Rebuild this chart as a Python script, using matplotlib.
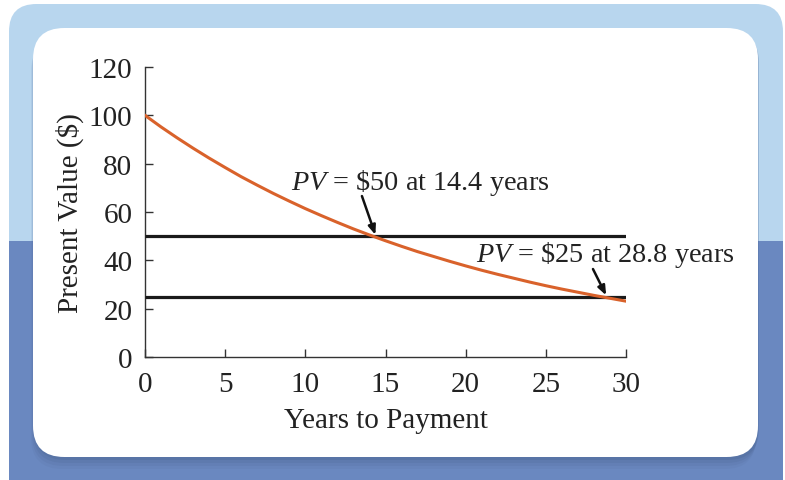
import matplotlib
matplotlib.use("Agg")
import matplotlib.pyplot as plt
from matplotlib.patches import FancyBboxPatch, Rectangle
import numpy as np

# ---- data ----
years = [0, 1, 2, 3, 4, 5, 6, 7, 8, 9, 10, 11, 12, 13, 14, 15, 16, 17, 18, 19, 20,
         21, 22, 23, 24, 25, 26, 27, 28, 29, 30]
present_value = [100.0, 95.2, 90.7, 86.4, 82.3, 78.4, 74.6, 71.1, 67.7, 64.5, 61.4,
                 58.5, 55.7, 53.0, 50.5, 48.1, 45.8, 43.6, 41.6, 39.6, 37.7,
                 35.9, 34.2, 32.6, 31.0, 29.5, 28.1, 26.8, 25.5, 24.3, 23.1]
ref_levels = [50, 25]
annot_texts = [r"$\it{PV}$ = \$50 at 14.4 years", r"$\it{PV}$ = \$25 at 28.8 years"]
annot_points = [(14.4, 50), (28.8, 25)]
x_ticks = [0, 5, 10, 15, 20, 25, 30]
y_ticks = [0, 20, 40, 60, 80, 100, 120]
x_label = "Years to Payment"
y_label = "Present Value ($)"

W, H = 785, 481
fig = plt.figure(figsize=(W / 100, H / 100), dpi=100)
plt.rcParams['font.family'] = ['Liberation Serif', 'DejaVu Serif']
plt.rcParams['mathtext.fontset'] = 'custom'
plt.rcParams['mathtext.it'] = 'Liberation Serif:italic'
plt.rcParams['mathtext.rm'] = 'Liberation Serif'

def fx(px):
    return px / W

def fy(py):
    return 1 - py / H

light_blue = "#b8d6ee"
dark_blue = "#6a88c0"
shadow = "#4d6896"

# outer frame
outer = FancyBboxPatch((fx(9), fy(500)), fx(783) - fx(9), fy(5) - fy(500),
                       boxstyle="round,pad=0,rounding_size=0.035",
                       transform=fig.transFigure, facecolor=light_blue,
                       edgecolor="none", zorder=0, mutation_aspect=W / H)
fig.patches.append(outer)
lower = Rectangle((fx(9), 0), fx(783) - fx(9), fy(242), transform=fig.transFigure,
                  facecolor=dark_blue, edgecolor="none", zorder=0.5)
fig.patches.append(lower)

# shadow
for i, a in enumerate([0.10, 0.15, 0.2, 0.3]):
    off = 12 - i * 3
    sh = FancyBboxPatch((fx(33 - 2 + i), fy(458 + off)), fx(758) - fx(33), fy(29) - fy(458),
                        boxstyle="round,pad=0,rounding_size=0.04",
                        transform=fig.transFigure, facecolor=shadow, alpha=a,
                        edgecolor="none", zorder=0.8, mutation_aspect=W / H)
    fig.patches.append(sh)

card = FancyBboxPatch((fx(33), fy(458)), fx(758) - fx(33), fy(29) - fy(458),
                      boxstyle="round,pad=0,rounding_size=0.04",
                      transform=fig.transFigure, facecolor="white",
                      edgecolor="none", zorder=1, mutation_aspect=W / H)
fig.patches.append(card)

# axes: x 0 at px 145, 30 at px 626 ; y 0 at 358, 120 at 68
ax = fig.add_axes([fx(145), fy(358), fx(626) - fx(145), fy(68) - fy(358)])
ax.set_zorder(2)
ax.patch.set_visible(False)
ax.set_xlim(0, 30)
ax.set_ylim(0, 120)

for lvl in ref_levels:
    ax.plot([years[0], years[-1]], [lvl, lvl], color="#1a1a1a", lw=2.3,
            solid_capstyle="butt", zorder=3)
ax.plot(years, present_value, color="#d9622b", lw=2.2, zorder=4)

ax.spines['top'].set_visible(False)
ax.spines['right'].set_visible(False)
for s in ['left', 'bottom']:
    ax.spines[s].set_color("#333333")
    ax.spines[s].set_linewidth(1.0)
ax.set_xticks(x_ticks)
ax.set_yticks(y_ticks)
ax.tick_params(direction='in', length=6, width=1.0, color="#333333",
               labelsize=21, labelcolor="#222222")
ax.tick_params(axis='x', pad=10)
ax.tick_params(axis='y', pad=9)
ax.set_xlabel(x_label, fontsize=21, color="#222222")
ax.set_ylabel(y_label, fontsize=21, color="#222222")
ax.xaxis.set_label_coords(0.5, -0.172)
ax.yaxis.set_label_coords(-0.127, 0.5)

# annotation texts
ax.text(17.15, 72.4, annot_texts[0], fontsize=20.3, color="#222222",
        ha="center", va="center", zorder=5)
ax.text(28.73, 42.6, annot_texts[1], fontsize=20.3, color="#222222",
        ha="center", va="center", zorder=5, clip_on=False)

# arrows
arrow_starts = [(13.53, 66.6), (27.94, 36.4)]
for start, pt in zip(arrow_starts, annot_points):
    ax.annotate("", xy=pt, xytext=start,
                arrowprops=dict(arrowstyle="-|>,head_length=0.55,head_width=0.22",
                                color="#111111", lw=1.8, shrinkA=0, shrinkB=1),
                zorder=5, annotation_clip=False)

fig.savefig("out.png", dpi=100)
